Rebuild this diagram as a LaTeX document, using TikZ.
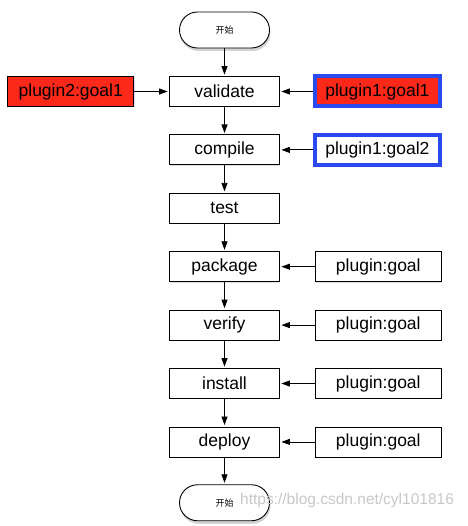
\documentclass[tikz,border=0pt]{standalone}
\usepackage{fontspec}
\setmainfont{Liberation Sans}
\newfontfamily\cjkfont{Noto Sans CJK SC}
\usetikzlibrary{arrows.meta,positioning,shadows}
\definecolor{goalred}{RGB}{252,40,26}
\definecolor{goalblue}{RGB}{42,74,240}

\begin{document}
\begin{tikzpicture}[
  x=1pt, y=-1pt,
  >={Triangle[length=8.5pt,width=6pt]},
  phase/.style={draw, line width=0.8pt, fill=white, inner sep=0pt,
                minimum width=110pt, minimum height=30pt,
                font=\fontsize{17.5}{20}\selectfont,
                drop shadow={shadow xshift=0.8pt, shadow yshift=-0.8pt, opacity=0.25}},
  goal/.style={phase, minimum width=126pt},
  bluegoal/.style={goal, draw=goalblue, line width=4pt, minimum width=125pt},
  bound/.style={draw, line width=0.9pt, fill=white, rounded corners=18pt,
                minimum width=90pt, minimum height=36pt,
                font=\cjkfont\fontsize{9}{10}\selectfont,
                drop shadow={shadow xshift=1pt, shadow yshift=-3pt, opacity=0.35}},
  e/.style={->, line width=0.8pt, shorten >=1.5pt}
]
\useasboundingbox (0,0) rectangle (467,526);

% lifecycle phases, one under the other
\node[bound] (begin) at (224.5,30) {开始};
\node[phase] (validate) at (224.5,91.5) {validate};
\node[phase, below=27.6pt of validate] (compile) {compile};
\node[phase, below=27.6pt of compile]  (test)    {test};
\node[phase, below=27.6pt of test]     (package) {package};
\node[phase, below=27.6pt of package]  (verify)  {verify};
\node[phase, below=27.6pt of verify]   (install) {install};
\node[phase, below=27.6pt of install]  (deploy)  {deploy};
\node[bound, below=27pt of deploy]     (finish)  {开始};

% goals bound to the phases
\node[goal, fill=goalred, left=35pt of validate] (p2goal1) {plugin2:goal1};
\node[bluegoal, fill=goalred, right=33pt of validate] (p1goal1) {plugin1:goal1};
\node[bluegoal, right=33pt of compile] (p1goal2) {plugin1:goal2};
\node[goal, right=35pt of package] (goalpkg) {plugin:goal};
\node[goal, right=35pt of verify]  (goalver) {plugin:goal};
\node[goal, right=35pt of install] (goalins) {plugin:goal};
\node[goal, right=35pt of deploy]  (goaldep) {plugin:goal};

\draw[e] (begin)    -- (validate);
\draw[e] (validate) -- (compile);
\draw[e] (compile)  -- (test);
\draw[e] (test)     -- (package);
\draw[e] (package)  -- (verify);
\draw[e] (verify)   -- (install);
\draw[e] (install)  -- (deploy);
\draw[e] (deploy)   -- (finish);

\draw[e] (p2goal1) -- (validate);
\draw[e] (p1goal1) -- (validate);
\draw[e] (p1goal2) -- (compile);
\draw[e] (goalpkg) -- (package);
\draw[e] (goalver) -- (verify);
\draw[e] (goalins) -- (install);
\draw[e] (goaldep) -- (deploy);

% watermark over the last terminal
\node[anchor=west, inner sep=0pt, text=black!22, font=\fontsize{15.5}{16}\selectfont]
  (mark) at (240,500) {https://blog.csdn.net/cyl101816};
\end{tikzpicture}
\end{document}
